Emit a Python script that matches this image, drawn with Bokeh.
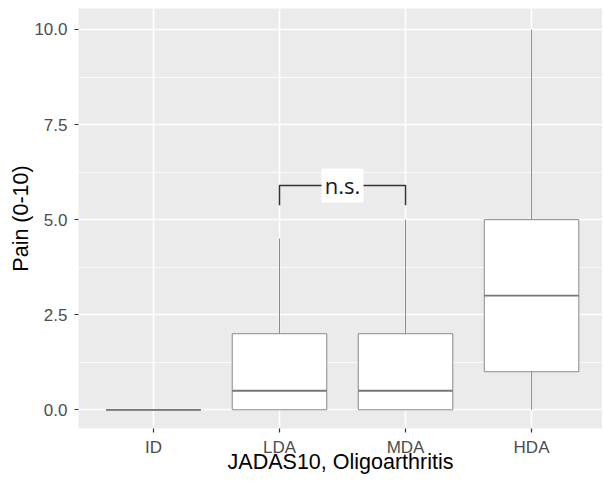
from bokeh.plotting import figure
from bokeh.models import Range1d, FixedTicker, PrintfTickFormatter
from bokeh.core.properties import value
from bokeh.embed import file_html
from bokeh.resources import INLINE

# ---- data ----
categories = ["ID", "LDA", "MDA", "HDA"]
positions = [1, 2, 3, 4]
lower_whisker = [0.0, 0.0, 0.0, 0.0]
q1 = [0.0, 0.0, 0.0, 1.0]
median = [0.0, 0.5, 0.5, 3.0]
q3 = [0.0, 2.0, 2.0, 5.0]
upper_whisker = [0.0, 4.5, 5.0, 10.0]
y_ticks = [0.0, 2.5, 5.0, 7.5, 10.0]
y_minor = [1.25, 3.75, 6.25, 8.75]
bracket_groups = [2, 3]          # LDA vs MDA
bracket_top = 5.9
bracket_tip = 5.38
bracket_label = "n.s."

BOX_W = 0.75
FONT = "Liberation Sans"

p = figure(width=602, height=481, output_backend="svg", toolbar_location=None,
           x_range=Range1d(0.405, 4.563), y_range=Range1d(-0.492, 10.552),
           min_border_left=78, min_border_right=0, min_border_top=8, min_border_bottom=53)

p.background_fill_color = "#EBEBEB"
p.border_fill_color = "white"
p.outline_line_color = None

# grid
p.xgrid.ticker = FixedTicker(ticks=positions)
p.ygrid.ticker = FixedTicker(ticks=y_ticks, minor_ticks=y_minor)
for g in (p.xgrid, p.ygrid):
    g.grid_line_color = "white"
    g.grid_line_width = 1.6
p.ygrid.minor_grid_line_color = "white"
p.ygrid.minor_grid_line_width = 0.8

# axes
p.xaxis.ticker = FixedTicker(ticks=positions)
p.xaxis.major_label_overrides = {pos: c for pos, c in zip(positions, categories)}
p.yaxis.ticker = FixedTicker(ticks=y_ticks)
p.yaxis.formatter = PrintfTickFormatter(format="%.1f")
for ax in (p.xaxis, p.yaxis):
    ax.axis_line_color = None
    ax.major_tick_line_color = "#333333"
    ax.major_tick_line_width = 1.2
    ax.major_tick_out = 4
    ax.major_tick_in = 0
    ax.minor_tick_line_color = None
    ax.major_label_text_font = FONT
    ax.major_label_text_font_size = "17px"
    ax.major_label_text_color = "#4D4D4D"
    ax.axis_label_text_font = FONT
    ax.axis_label_text_font_size = "21.5px"
    ax.axis_label_text_font_style = "normal"
    ax.axis_label_text_color = "black"
p.xaxis.axis_label = "JADAS10, Oligoarthritis"
p.yaxis.axis_label = "Pain (0-10)"
p.xaxis.major_label_standoff = 5
p.xaxis.axis_label_standoff = -10
p.yaxis.major_label_standoff = 7
p.yaxis.axis_label_standoff = -2

LINE = "#8a8a8a"
# whiskers
p.segment(x0=positions, y0=lower_whisker, x1=positions, y1=q1, line_color=LINE, line_width=1)
p.segment(x0=positions, y0=q3, x1=positions, y1=upper_whisker, line_color=LINE, line_width=1)
# boxes
p.vbar(x=positions, width=BOX_W, bottom=q1, top=q3, fill_color="white",
       line_color=LINE, line_width=1)
# medians
p.segment(x0=[x - BOX_W / 2 for x in positions], y0=median,
          x1=[x + BOX_W / 2 for x in positions], y1=median,
          line_color="#777777", line_width=1.8)

# significance bracket
bx = [bracket_groups[0], bracket_groups[0], bracket_groups[1], bracket_groups[1]]
by = [bracket_tip, bracket_top, bracket_top, bracket_tip]
p.line(x=bx, y=by, line_color="#333333", line_width=1.5, line_join="round")
mid = (bracket_groups[0] + bracket_groups[1]) / 2
p.rect(x=[mid], y=[bracket_top], width=42, height=34, width_units="screen",
       height_units="screen", fill_color="white", line_color=None)
p.text(x=[mid], y=[bracket_top], text=[bracket_label], text_align="center",
       text_baseline="middle", text_font=value("Open Sans"),
       text_font_size="22px", text_color="#1a1a1a")

open("out.html", "w").write(file_html(p, INLINE))
